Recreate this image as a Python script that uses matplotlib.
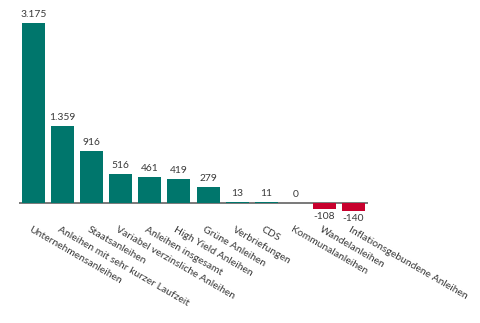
import matplotlib
matplotlib.use("Agg")
import matplotlib.pyplot as plt

categories = [
    "Unternehmensanleihen",
    "Anleihen mit sehr kurzer Laufzeit",
    "Staatsanleihen",
    "Variabel verzinsliche Anleihen",
    "Anleihen insgesamt",
    "High Yield Anleihen",
    "Grüne Anleihen",
    "Verbriefungen",
    "CDS",
    "Kommunalanleihen",
    "Wandelanleihen",
    "Inflationsgebundene Anleihen",
]
values = [3175, 1359, 916, 516, 461, 419, 279, 13, 11, 0, -108, -140]
value_labels = ["3.175", "1.359", "916", "516", "461", "419", "279",
                "13", "11", "0", "-108", "-140"]

TEAL = "#00766c"
RED = "#c8002d"
TEXT = "#3a3a3a"

plt.rcParams["font.family"] = ["Lato", "DejaVu Sans"]

fig = plt.figure(figsize=(4.81, 3.23), dpi=100)
ax = fig.add_axes([0.0395, 0.3012, 0.7256, 0.6495])
ax.set_xlim(-0.5, len(categories) - 0.5)
ax.set_ylim(-400, 3300)
ax.axis("off")

x = list(range(len(categories)))
colors = [TEAL if v >= 0 else RED for v in values]
ax.axhline(0, color="#555555", linewidth=1.1, zorder=1)
ax.bar(x, values, width=0.79, color=colors, zorder=2)

for xi, v, lab in zip(x, values, value_labels):
    if v >= 0:
        ax.annotate(lab, (xi, v), xytext=(0, 3), textcoords="offset points",
                    ha="center", va="bottom", fontsize=7.4, color=TEXT)
    else:
        ax.annotate(lab, (xi, v), xytext=(0, -2), textcoords="offset points",
                    ha="center", va="top", fontsize=7.4, color=TEXT)

for xi, cat in zip(x, categories):
    ax.annotate(cat, (xi, 0), xytext=(-1.5, -16), textcoords="offset points",
                ha="left", va="top", rotation=-30, rotation_mode="anchor",
                fontsize=7.5, color=TEXT, annotation_clip=False)

fig.savefig("out.png", dpi=100)
